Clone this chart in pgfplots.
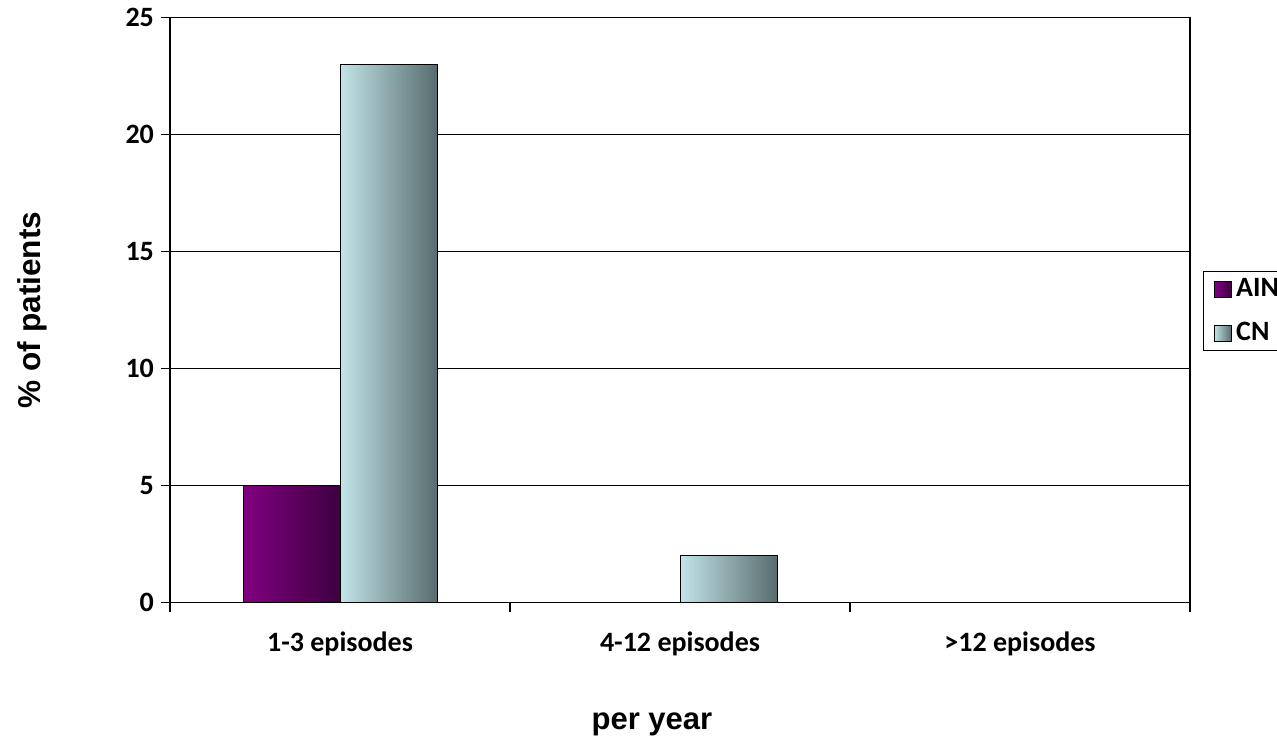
\documentclass[border=0pt]{standalone}
\usepackage{pgfplots}
\pgfplotsset{compat=1.18}
\usepackage{fontspec}
\setmainfont{Carlito}
\newfontfamily\arialfont{Liberation Sans}

\definecolor{ainL}{RGB}{128,0,128}
\definecolor{ainR}{RGB}{62,0,64}
\definecolor{cnL}{RGB}{194,228,232}
\definecolor{cnR}{RGB}{88,108,110}

% each bar gets its own horizontal gradient
\pgfplotsset{
  ainbar/.style={ybar, bar width=48.5pt, bar shift=-24.25pt, draw=black,
    line width=0.5pt, left color=ainL, right color=ainR},
  cnbar/.style={ybar, bar width=48.5pt, bar shift=24.25pt, draw=black,
    line width=0.5pt, left color=cnL, right color=cnR},
}

\begin{document}
\begin{tikzpicture}
\clip (0,0) rectangle (638.5pt,369pt);
\begin{axis}[
  at={(85pt,67.75pt)}, anchor=south west,
  scale only axis, width=510pt, height=292.5pt,
  xmin=-0.5, xmax=2.5, ymin=0, ymax=25,
  ytick={0,5,10,15,20,25},
  ymajorgrids, grid style={black, line width=0.5pt},
  axis line style={black, line width=0.7pt},
  tick style={black, line width=0.6pt},
  tick align=outside, major tick length=4.5pt,
  yticklabel style={font=\bfseries\fontsize{14}{16}\selectfont},
  /pgf/number format/assume math mode=true,
  ytick pos=left,
  xtick={-0.5,0.5,1.5,2.5}, xticklabels={},
  xtick pos=bottom,
  extra x ticks={0,1,2},
  extra x tick labels={1-3 episodes,4-12 episodes,>12 episodes},
  extra x tick style={major tick length=0pt, grid=none,
    xticklabel style={font=\bfseries\fontsize{14}{16}\selectfont, yshift=-11pt}},
  xlabel={per year}, ylabel={\% of patients},
  xlabel style={font=\arialfont\bfseries\fontsize{15.5}{18}\selectfont,
    at={(axis description cs:0.4725,-0.2077)}, anchor=center},
  ylabel style={font=\arialfont\bfseries\fontsize{15.8}{18}\selectfont,
    at={(axis description cs:-0.1353,0.5)}, anchor=center},
  legend style={at={(axis description cs:1.0127,0.5665)}, anchor=north west,
    draw=black, line width=0.6pt, font=\bfseries\fontsize{14}{16}\selectfont,
    inner xsep=5pt, inner ysep=3pt, row sep=10.5pt,
    nodes={inner sep=0pt, text height=9.5pt, text depth=2pt}},
  legend cell align=left,
  legend image code/.code={\draw[#1, line width=0.5pt] (0pt,-4pt) rectangle (8.5pt,4pt);},
]
% AIN
\addplot[ainbar] coordinates {(0,5)};
\addplot[cnbar] coordinates {(0,23)};
\addplot[cnbar, forget plot] coordinates {(1,2)};
\legend{\,AIN,\,CN}
% categories with no patients (zero-height bars)
\addplot[ybar, bar width=48.5pt, bar shift=-24.25pt, draw=black, line width=0.5pt, forget plot]
  coordinates {(1,0) (2,0)};
\addplot[ybar, bar width=48.5pt, bar shift=24.25pt, draw=black, line width=0.5pt, forget plot]
  coordinates {(2,0)};
\end{axis}
\end{tikzpicture}
\end{document}
